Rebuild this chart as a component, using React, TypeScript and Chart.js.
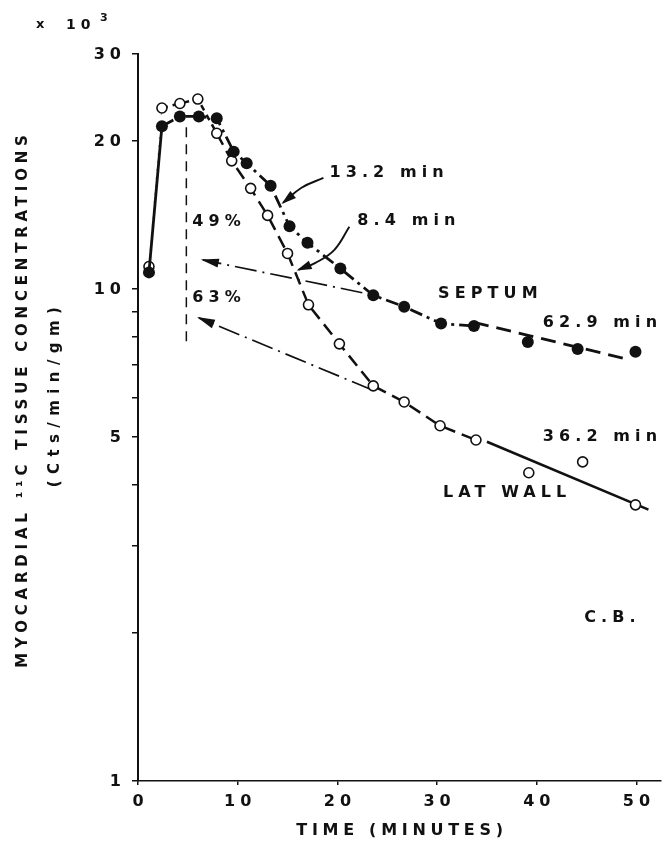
import React, { useEffect, useRef } from "react";
import { Chart, registerables } from "chart.js";

Chart.register(...registerables);

// ---- data (concentrations in thousands of counts/min/gm) ----
const septumTime = [1.1, 2.4, 4.2, 6.1, 7.9, 9.6, 10.9, 13.3, 15.2, 17.0, 20.3, 23.6, 26.7, 30.4, 33.7, 39.1, 44.1, 49.9];
const septumConc = [10.8, 21.4, 22.4, 22.4, 22.2, 19.0, 18.0, 16.2, 13.4, 12.4, 11.0, 9.7, 9.2, 8.5, 8.4, 7.8, 7.55, 7.45];

const latTime = [1.1, 2.4, 4.2, 6.0, 7.9, 9.4, 11.3, 13.0, 15.0, 17.1, 20.2, 23.6, 26.7, 30.3, 33.9, 39.2, 44.6, 49.9];
const latConc = [11.1, 23.3, 23.8, 24.3, 20.7, 18.2, 16.0, 14.1, 11.8, 9.28, 7.73, 6.35, 5.89, 5.27, 4.93, 4.23, 4.45, 3.64];

const septumFitTime = [33.7, 49.3];
const septumFitConc = [8.55, 7.18];
const latFitTime = [35.0, 51.2];
const latFitConc = [4.89, 3.56];

const peakLineTime = [4.85, 4.85];
const peakLineConc = [21.3, 7.62];

const arrow49Time = [22.5, 6.5];
const arrow49Conc = [9.82, 11.45];
const arrow63Time = [23.5, 6.1];
const arrow63Conc = [6.23, 8.73];

const arrow132Time = [18.6, 16.4, 14.55];
const arrow132Conc = [16.8, 16.05, 14.96];
const arrow84Time = [21.2, 19.7, 17.8, 16.1];
const arrow84Conc = [13.37, 12.0, 11.29, 10.93];

const xTickValues = [0, 10, 20, 30, 40, 50];
const xTickLabels = ["0", "10", "20", "30", "40", "50"];
const yTickValues = [1, 2, 3, 4, 5, 6, 7, 8, 9, 10, 20, 30];
const yLabelValues = [1, 5, 10, 20, 30];
const yLabelTexts = ["1", "5", "10", "20", "30"];

const noteTexts = ["13.2 min", "8.4 min", "49%", "63%", "SEPTUM", "62.9 min", "36.2 min", "LAT WALL", "C.B."];
const noteTime = [19.2, 22.0, 5.45, 5.45, 30.1, 40.6, 40.6, 30.6, 44.75];
const noteConc = [17.2, 13.75, 13.7, 9.59, 9.77, 8.53, 5.0, 3.85, 2.15];

const xTitle = "TIME (MINUTES)";
const yTitle = "MYOCARDIAL \u00B9\u00B9C TISSUE CONCENTRATIONS";
const yUnits = "(Cts/min/gm)";

const FONT = '"DejaVu Sans", "Liberation Sans", sans-serif';
const INK = "#111";

const pts = (xs: number[], ys: number[]) => xs.map((x, i) => ({ x, y: ys[i] }));

const textPlugin = {
  id: "paperText",
  afterDraw(chart: any) {
    const ctx = chart.ctx as CanvasRenderingContext2D;
    const xs = chart.scales.x;
    const ys = chart.scales.y;
    ctx.save();
    ctx.fillStyle = INK;

    // arrowheads
    chart.data.datasets.forEach((ds: any, i: number) => {
      if (!ds.arrowHead) return;
      const meta = chart.getDatasetMeta(i);
      const n = meta.data.length;
      const head = meta.data[n - 1];
      const prev = meta.data[n - 2];
      const ang = Math.atan2(head.y - prev.y, head.x - prev.x);
      const L = ds.arrowLen || 13;
      const W = ds.arrowWid || 4;
      ctx.save();
      ctx.translate(head.x, head.y);
      ctx.rotate(ang);
      ctx.beginPath();
      ctx.moveTo(2, 0);
      ctx.lineTo(-L, -W);
      ctx.lineTo(-L, W);
      ctx.closePath();
      ctx.fill();
      ctx.restore();
    });

    const setFont = (size: number, spacing: number) => {
      ctx.font = `bold ${size}px ${FONT}`;
      (ctx as any).letterSpacing = `${spacing}px`;
    };

    // x tick labels
    setFont(16, 5);
    ctx.textAlign = "center";
    ctx.textBaseline = "middle";
    xTickValues.forEach((v, i) => {
      ctx.fillText(xTickLabels[i], xs.getPixelForValue(v) + 2.5, 802);
    });

    // y tick labels
    ctx.textAlign = "right";
    yLabelValues.forEach((v, i) => {
      ctx.fillText(yLabelTexts[i], xs.left - 12, ys.getPixelForValue(v) + 1);
    });

    // notes
    setFont(16, 5.1);
    ctx.textAlign = "left";
    noteTexts.forEach((t, i) => {
      ctx.fillText(t, xs.getPixelForValue(noteTime[i]), ys.getPixelForValue(noteConc[i]));
    });

    // x10^3
    setFont(13, 0);
    ctx.fillText("x", 36, 25);
    setFont(14, 5);
    ctx.fillText("10", 66, 25);
    setFont(11, 0);
    ctx.fillText("3", 100, 18);

    // x title
    setFont(16, 4.7);
    ctx.textAlign = "center";
    ctx.fillText(xTitle, 402, 831);

    // y title
    ctx.save();
    ctx.translate(23, 399);
    ctx.rotate(-Math.PI / 2);
    setFont(15, 4.8);
    ctx.fillText(yTitle, 0, 0);
    ctx.restore();

    ctx.save();
    ctx.translate(55, 394);
    ctx.rotate(-Math.PI / 2);
    setFont(15, 6.4);
    ctx.fillText(yUnits, 0, 0);
    ctx.restore();

    ctx.restore();
  },
};

export default function App() {
  const ref = useRef<HTMLCanvasElement | null>(null);
  useEffect(() => {
    document.body.style.margin = "0";
    const canvas = ref.current!;
    const lastSep = 14;
    const lastLat = 14;
    const chart = new Chart(canvas, {
      type: "line",
      data: {
        datasets: [
          {
            label: "Septum",
            data: pts(septumTime, septumConc),
            borderColor: INK,
            borderWidth: 2.8,
            backgroundColor: INK,
            pointBackgroundColor: INK,
            pointBorderColor: INK,
            pointRadius: 6,
            pointBorderWidth: 0,
            tension: 0,
            segment: {
              borderDash: (c: any) => (c.p0DataIndex === 0 ? [] : [13, 5, 3, 5]),
              borderColor: (c: any) => (c.p0DataIndex >= lastSep ? "rgba(0,0,0,0)" : INK),
            },
          } as any,
          {
            label: "Lat wall",
            data: pts(latTime, latConc),
            borderColor: INK,
            borderWidth: 2.5,
            pointBackgroundColor: "#fff",
            pointBorderColor: INK,
            pointRadius: 5,
            pointBorderWidth: 1.6,
            tension: 0,
            segment: {
              borderDash: (c: any) =>
                c.p0DataIndex === 0 ? [2, 6] : c.p0DataIndex < 4 ? [6, 5] : [13, 7],
              borderColor: (c: any) =>
                c.p0DataIndex === 0 ? "rgba(0,0,0,0.35)" : c.p0DataIndex >= lastLat ? "rgba(0,0,0,0)" : INK,
              borderWidth: (c: any) => (c.p0DataIndex === 0 ? 1.2 : 2.5),
            },
          } as any,
          {
            label: "Septum fit",
            data: pts(septumFitTime, septumFitConc),
            borderColor: INK,
            borderWidth: 2.8,
            borderDash: [15, 8],
            pointRadius: 0,
          },
          {
            label: "Lat fit",
            data: pts(latFitTime, latFitConc),
            borderColor: INK,
            borderWidth: 2.5,
            pointRadius: 0,
          },
          {
            label: "Peak",
            data: pts(peakLineTime, peakLineConc),
            borderColor: INK,
            borderWidth: 1.5,
            borderDash: [10, 7],
            pointRadius: 0,
          },
          {
            label: "49",
            data: pts(arrow49Time, arrow49Conc),
            borderColor: INK,
            borderWidth: 1.7,
            borderDash: [22, 6, 2, 6],
            pointRadius: 0,
            arrowHead: true,
            arrowLen: 16,
            arrowWid: 4.5,
          } as any,
          {
            label: "63",
            data: pts(arrow63Time, arrow63Conc),
            borderColor: INK,
            borderWidth: 1.7,
            borderDash: [22, 6, 2, 6],
            pointRadius: 0,
            arrowHead: true,
            arrowLen: 16,
            arrowWid: 4.5,
          } as any,
          {
            label: "a13",
            data: pts(arrow132Time, arrow132Conc),
            borderColor: INK,
            borderWidth: 1.9,
            pointRadius: 0,
            tension: 0.4,
            arrowHead: true,
            arrowLen: 13,
            arrowWid: 4.5,
          } as any,
          {
            label: "a8",
            data: pts(arrow84Time, arrow84Conc),
            borderColor: INK,
            borderWidth: 1.9,
            pointRadius: 0,
            tension: 0.4,
            arrowHead: true,
            arrowLen: 13,
            arrowWid: 4.5,
          } as any,
        ],
      },
      options: {
        animation: false,
        responsive: false,
        maintainAspectRatio: false,
        layout: { padding: { top: 54, left: 0, right: 0, bottom: 0 } },
        plugins: { legend: { display: false }, tooltip: { enabled: false } },
        scales: {
          x: {
            type: "linear",
            min: 0,
            max: 52.4,
            afterBuildTicks: (s: any) => {
              s.ticks = xTickValues.map((v) => ({ value: v }));
            },
            afterFit: (s: any) => {
              s.height = 69;
            },
            ticks: { display: false },
            grid: { drawOnChartArea: false, drawTicks: true, tickLength: 4, color: INK, lineWidth: 1.5 },
            border: { display: true, color: INK, width: 1.5 },
          },
          y: {
            type: "logarithmic",
            min: 1,
            max: 30,
            afterBuildTicks: (s: any) => {
              s.ticks = yTickValues.map((v) => ({ value: v }));
            },
            afterFit: (s: any) => {
              s.width = 138;
            },
            ticks: { display: false },
            grid: { drawOnChartArea: false, drawTicks: true, tickLength: 6, color: INK, lineWidth: 1.5 },
            border: { display: true, color: INK, width: 2 },
          },
        },
      } as any,
      plugins: [textPlugin],
    });
    return () => chart.destroy();
  }, []);
  return (
    <div style={{ width: 667, height: 850, background: "#fff" }}>
      <canvas ref={ref} width={667} height={850} style={{ display: "block" }} />
    </div>
  );
}
